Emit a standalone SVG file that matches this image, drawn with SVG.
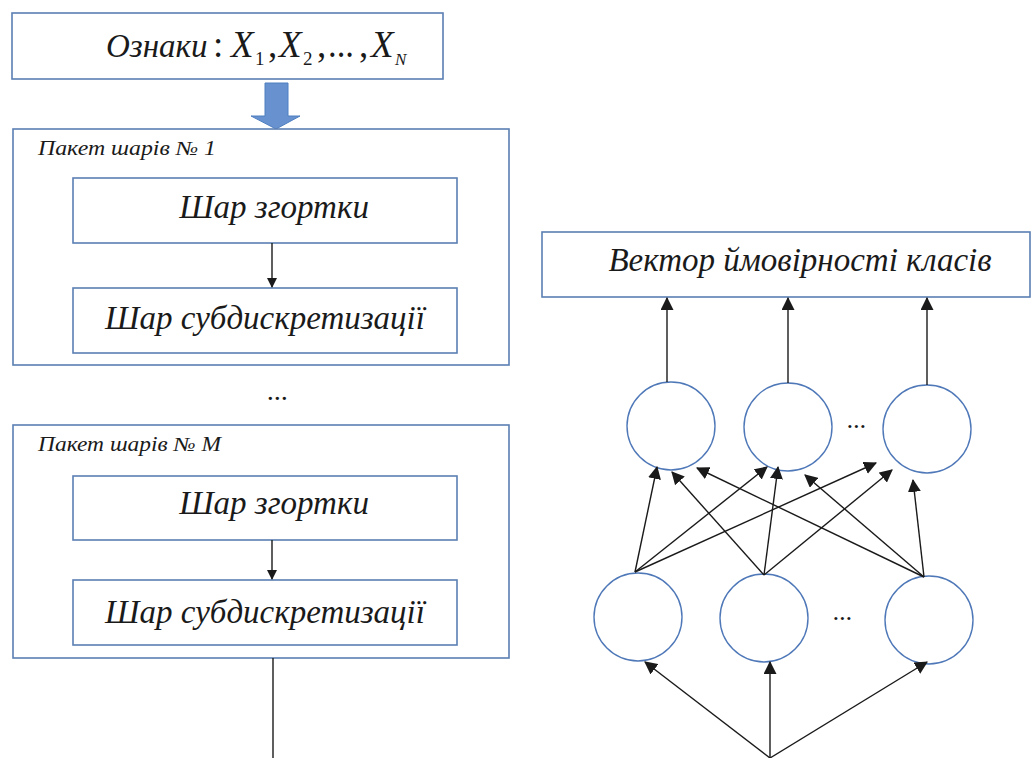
<svg xmlns="http://www.w3.org/2000/svg" width="1032" height="758" viewBox="0 0 1032 758">
<style>
.box{fill:#fff;stroke:#5b7fb3;stroke-width:1.6}
.nd{fill:#fff;stroke:#4f78b8;stroke-width:1.4}
.t{font-family:"Liberation Serif","DejaVu Serif",serif;font-style:italic;fill:#1a1a1a}
.lbl{font-size:20px}
.big{font-size:33px;text-anchor:middle}
.sub{font-style:normal;font-size:19px}
.ln{stroke:#1a1a1a;stroke-width:1.4;fill:none}
.arr{stroke:#1a1a1a;stroke-width:1.4;fill:none;marker-end:url(#ah)}
.arL{stroke:#1a1a1a;stroke-width:1.4;fill:none;marker-end:url(#ahL)}
</style>
<defs>
<marker id="ah" viewBox="0 0 10 10" refX="9" refY="5" markerWidth="10" markerHeight="10" markerUnits="userSpaceOnUse" orient="auto">
<path d="M0,0 L10,5 L0,10 z" fill="#1a1a1a"/>
</marker>
<marker id="ahL" viewBox="0 0 12 12" refX="11" refY="6" markerWidth="13" markerHeight="13" markerUnits="userSpaceOnUse" orient="auto">
<path d="M0,0 L12,6 L0,12 z" fill="#1a1a1a"/>
</marker>
</defs>

<g id="features">
<rect class="box" x="12" y="13" width="431" height="66"/>
<text class="t" x="106" y="57" font-size="33">Ознаки</text>
<text class="t" y="57" font-size="37"><tspan x="213" font-style="normal">:</tspan><tspan x="231">X</tspan><tspan x="255" y="65" class="sub">1</tspan><tspan x="268" y="57" font-style="normal">,</tspan><tspan x="279">X</tspan><tspan x="303" y="65" class="sub">2</tspan><tspan x="317" y="57" font-style="normal">,</tspan><tspan x="328" font-style="normal" textLength="26" lengthAdjust="spacingAndGlyphs">...</tspan><tspan x="359" font-style="normal">,</tspan><tspan x="371">X</tspan><tspan x="395" y="65" font-size="17">N</tspan></text>
</g>

<g id="bigarrow">
<path d="M265,83 H288 V116 H300 L276,129 L251,116 H265 Z" fill="#6792cf" stroke="#4f7fc0" stroke-width="1"/>
</g>

<g id="pack1">
<rect class="box" x="13" y="129" width="496" height="236"/>
<text class="t lbl" x="38" y="155" textLength="178" lengthAdjust="spacingAndGlyphs">Пакет шарів № 1</text>
</g>
<g id="conv1">
<rect class="box" x="73" y="178" width="384" height="65"/>
<text class="t big" x="274" y="218">Шар згортки</text>
</g>
<g id="pool1">
<rect class="box" x="73" y="288" width="384" height="65"/>
<text class="t big" x="265" y="329">Шар субдискретизації</text>
</g>

<g id="dots1"><text class="t" x="278" y="400" font-size="28" text-anchor="middle" font-style="normal">...</text></g>

<g id="packM">
<rect class="box" x="13" y="425" width="496" height="233"/>
<text class="t lbl" x="38" y="451" textLength="183" lengthAdjust="spacingAndGlyphs">Пакет шарів № M</text>
</g>
<g id="convM">
<rect class="box" x="73" y="476" width="384" height="64"/>
<text class="t big" x="274" y="514">Шар згортки</text>
</g>
<g id="poolM">
<rect class="box" x="73" y="580" width="384" height="65"/>
<text class="t big" x="265" y="623">Шар субдискретизації</text>
</g>

<g id="probs">
<rect class="box" x="542" y="232" width="488" height="65"/>
<text class="t" x="800" y="271" font-size="33" text-anchor="middle">Вектор ймовірності класів</text>
</g>

<g id="u1"><circle class="nd" cx="671" cy="426" r="44"/></g>
<g id="u2"><circle class="nd" cx="788" cy="427" r="44"/></g>
<g id="u3"><circle class="nd" cx="927" cy="429" r="44"/></g>
<g id="udots"><text class="t" x="857" y="428" font-size="26" text-anchor="middle" font-style="normal">...</text></g>

<g id="l1"><circle class="nd" cx="638" cy="617" r="44"/></g>
<g id="l2"><circle class="nd" cx="764" cy="618" r="44"/></g>
<g id="l3"><circle class="nd" cx="929" cy="620" r="44"/></g>
<g id="ldots"><text class="t" x="843" y="620" font-size="26" text-anchor="middle" font-style="normal">...</text></g>

<g id="connectors">
<line class="arr" x1="272" y1="243" x2="272" y2="287"/>
<line class="arr" x1="272" y1="540" x2="272" y2="579"/>
<line class="ln" x1="273" y1="658" x2="273" y2="758"/>

<line class="arL" x1="667" y1="382" x2="667" y2="298"/>
<line class="arL" x1="788" y1="383" x2="788" y2="298"/>
<line class="arL" x1="927" y1="385" x2="927" y2="298"/>

<line class="arL" x1="635" y1="572" x2="657" y2="467"/>
<line class="arL" x1="635" y1="572" x2="767" y2="467"/>
<line class="arL" x1="635" y1="572" x2="876" y2="463"/>
<line class="arL" x1="764" y1="575" x2="672" y2="472"/>
<line class="arL" x1="764" y1="575" x2="778" y2="467"/>
<line class="arL" x1="764" y1="575" x2="892" y2="470"/>
<line class="arL" x1="924" y1="577" x2="697" y2="468"/>
<line class="arL" x1="924" y1="577" x2="805" y2="475"/>
<line class="arL" x1="924" y1="577" x2="913" y2="480"/>

<line class="arL" x1="770" y1="758" x2="645" y2="662"/>
<line class="arL" x1="770" y1="758" x2="770" y2="662"/>
<line class="arL" x1="770" y1="758" x2="927" y2="662"/>
</g>
</svg>
